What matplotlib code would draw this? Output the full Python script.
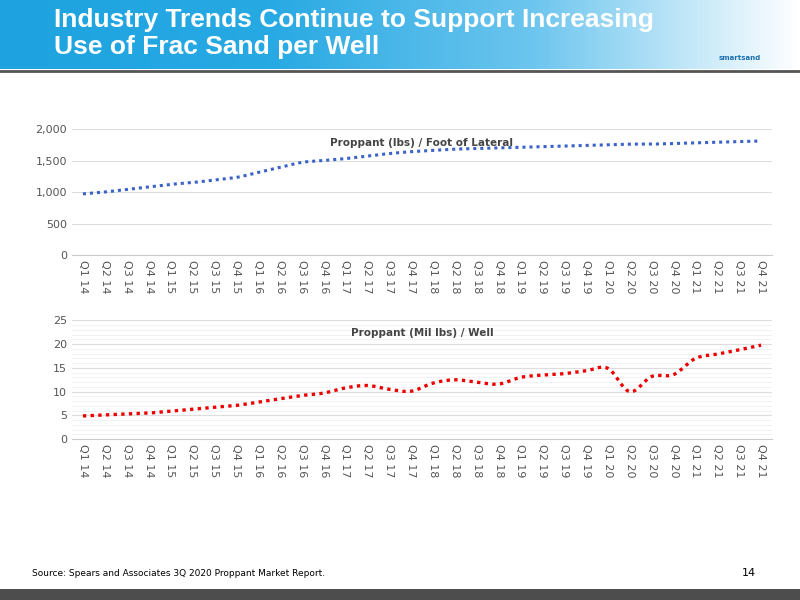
import matplotlib.pyplot as plt
import numpy as np
from matplotlib.ticker import FuncFormatter, MultipleLocator
from matplotlib.colors import LinearSegmentedColormap

quarters = [f"Q{q} {y}" for y in range(14, 22) for q in range(1, 5)]
lbs_per_foot = [970, 1000, 1040, 1080, 1120, 1150, 1190, 1230,
                1310, 1390, 1470, 1500, 1530, 1570, 1610, 1640,
                1660, 1680, 1690, 1700, 1710, 1720, 1730, 1740,
                1750, 1760, 1760, 1770, 1780, 1790, 1800, 1810]
mil_lbs_per_well = [4.9, 5.1, 5.3, 5.5, 5.9, 6.3, 6.7, 7.1,
                    7.8, 8.5, 9.2, 9.7, 10.8, 11.3, 10.5, 10.1,
                    11.8, 12.5, 12.0, 11.6, 13.0, 13.5, 13.8, 14.4,
                    14.9, 10.0, 13.2, 13.6, 17.0, 17.9, 18.8, 19.8]


def smooth(x, y, n=12):
    # Catmull-Rom curve through the points, like Excel's smoothed line
    p = np.column_stack([x, y]).astype(float)
    p = np.vstack([p[0], p, p[-1]])
    out = []
    t = np.linspace(0, 1, n, endpoint=False)[:, None]
    for i in range(1, len(p) - 2):
        p0, p1, p2, p3 = p[i - 1], p[i], p[i + 1], p[i + 2]
        seg = 0.5 * ((2 * p1) + (-p0 + p2) * t + (2 * p0 - 5 * p1 + 4 * p2 - p3) * t ** 2
                     + (-p0 + 3 * p1 - 3 * p2 + p3) * t ** 3)
        out.append(seg)
    out.append(p[-2][None, :])
    s = np.vstack(out)
    return s[:, 0], s[:, 1]


fig = plt.figure(figsize=(8, 6), dpi=100)
fig.patch.set_facecolor("white")

# header band
hdr = fig.add_axes([0, 0.885, 1, 0.115])
grad = np.linspace(0, 1, 256)[None, :]
cmap = LinearSegmentedColormap.from_list("h", ["#1ea3e0", "#27a9e3", "#6cc5ee", "#ffffff"])
hdr.imshow(grad, aspect="auto", cmap=cmap, extent=[0, 1, 0, 1])
hdr.set_axis_off()
fig.text(0.068, 0.967, "Industry Trends Continue to Support Increasing", color="white",
         fontsize=19, weight="bold", va="center", family="Liberation Sans")
fig.text(0.068, 0.922, "Use of Frac Sand per Well", color="white",
         fontsize=19, weight="bold", va="center", family="Liberation Sans")
fig.text(0.925, 0.9, "smartsand", color="#1a6fb0", fontsize=5, weight="bold", ha="center")
fig.add_artist(plt.Line2D([0, 1], [0.882, 0.882], color="#555555", lw=2))

# footer bar
foot = fig.add_axes([0, 0, 1, 0.018])
foot.set_facecolor("#4d4d4d")
foot.set_xticks([]); foot.set_yticks([])
for s in foot.spines.values():
    s.set_visible(False)
fig.text(0.04, 0.045, "Source: Spears and Associates 3Q 2020 Proppant Market Report.",
         fontsize=6.5, va="center")
fig.text(0.945, 0.045, "14", fontsize=8, va="center", ha="right")

x = np.arange(len(quarters))


def style(ax, ymax, step, title, fmt):
    ax.set_xlim(-0.5, len(quarters) - 0.5)
    ax.set_ylim(0, ymax)
    ax.yaxis.set_major_locator(MultipleLocator(step))
    ax.yaxis.set_major_formatter(FuncFormatter(fmt))
    ax.grid(axis="y", color="#dddddd", lw=0.8)
    for s in ax.spines.values():
        s.set_visible(False)
    ax.spines["bottom"].set_visible(True)
    ax.spines["bottom"].set_color("#cccccc")
    ax.tick_params(which="both", length=0, labelsize=8, colors="#555555")
    ax.set_xticks(x)
    ax.set_xticklabels(quarters, rotation=-90, fontsize=8)
    ax.set_axisbelow(True)
    ax.set_title(title, fontsize=7.5, weight="bold", color="#444444", y=0.8)


ax1 = fig.add_axes([0.09, 0.575, 0.875, 0.21])
sx, sy = smooth(x, lbs_per_foot)
ax1.plot(sx, sy, color="#3a62c8", lw=2.2, ls=(0, (1, 1.3)))
style(ax1, 2000, 500, "Proppant (lbs) / Foot of Lateral", lambda v, p: f"{int(v):,}")

ax2 = fig.add_axes([0.09, 0.268, 0.875, 0.198])
sx, sy = smooth(x, mil_lbs_per_well)
ax2.plot(sx, sy, color="#ee0000", lw=2.4, ls=(0, (1, 1.3)))
style(ax2, 25, 5, "Proppant (Mil lbs) / Well", lambda v, p: f"{int(v)}")
ax2.yaxis.set_minor_locator(MultipleLocator(1))
ax2.grid(axis="y", which="minor", color="#f0f0f0", lw=0.6)

fig.savefig("out.png", dpi=100, facecolor="white")
